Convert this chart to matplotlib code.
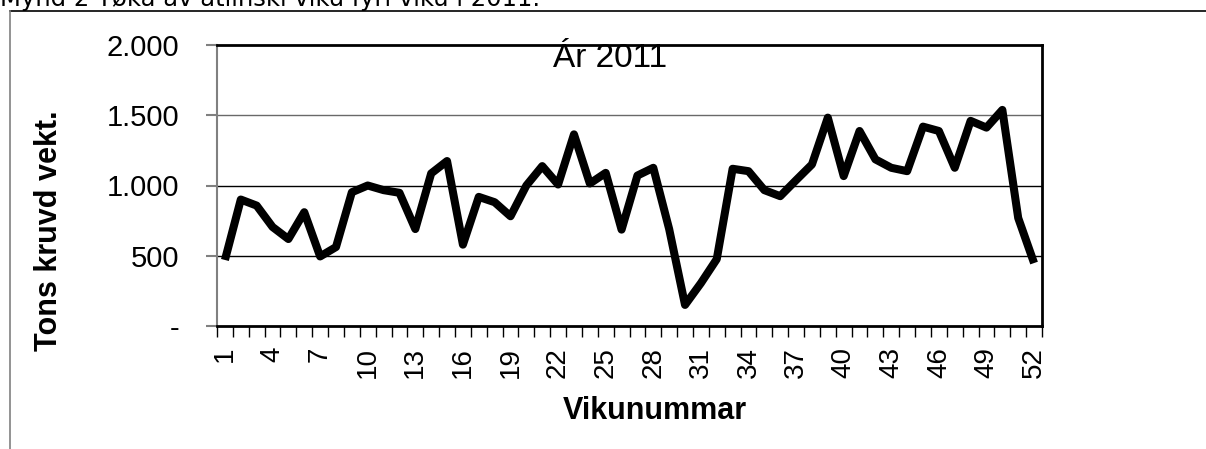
import numpy as np
import matplotlib.pyplot as plt
from matplotlib.lines import Line2D

weeks = np.arange(1, 53)
tons = [470, 900, 857, 705, 619, 810, 495, 562, 952, 1000,
        967, 948, 690, 1086, 1174, 579, 919, 881, 781, 1000,
        1138, 1007, 1364, 1014, 1090, 686, 1071, 1126, 690, 150,
        305, 476, 1119, 1102, 967, 924, 1038, 1150, 1483, 1067,
        1388, 1186, 1126, 1102, 1419, 1388, 1126, 1460, 1412, 1538,
        769, 448]
label_weeks = list(range(1, 53, 3))
y_ticks = [0, 500, 1000, 1500, 2000]
y_labels = ["-", "500", "1.000", "1.500", "2.000"]

plt.rcParams["font.family"] = ["Liberation Sans", "DejaVu Sans"]

fig = plt.figure(figsize=(12.06, 4.49), dpi=100)
ax = fig.add_axes([217 / 1206, 1 - 326 / 449, 825 / 1206, 281 / 449])

ax.plot(weeks, tons, color="black", lw=5.8, solid_joinstyle="round",
        solid_capstyle="butt", zorder=3)

ax.set_xlim(0.5, 52.5)
ax.set_ylim(0, 2000)

ax.set_yticks(y_ticks)
ax.set_yticklabels(y_labels, fontsize=21)
ax.tick_params(axis="y", length=8, color="gray", width=1.5, pad=19)
for v in y_ticks[1:4]:
    ax.axhline(v, color="black" if v < 1500 else "dimgray", lw=1, zorder=1)

ax.set_xticks(label_weeks)
ax.set_xticklabels([str(w) for w in label_weeks], rotation=90, fontsize=20)
ax.tick_params(axis="x", which="major", length=0, pad=15)
ax.set_xticks(np.arange(0.5, 53), minor=True)
ax.tick_params(axis="x", which="minor", length=8, width=1, color="black")

ax.spines["left"].set_color("gray")
ax.spines["left"].set_linewidth(1.5)
for s in ["bottom", "top", "right"]:
    ax.spines[s].set_color("black")
    ax.spines[s].set_linewidth(2)

ax.set_ylabel("Tons kruvd vekt.", fontsize=22, fontweight="bold")
ax.yaxis.set_label_coords(-0.186, 0.338)
ax.set_xlabel("Vikunummar", fontsize=22, fontweight="bold")
ax.xaxis.set_label_coords(0.531, -0.25)

ax.text(610 / 1206, 1 - 67 / 449, "Ár 2011", transform=fig.transFigure,
        fontsize=24, ha="center", va="baseline")

# chart area frame and the caption that is cut off at the top
fig.add_artist(Line2D([10 / 1206, 1], [1 - 11 / 449, 1 - 11 / 449],
                      color="black", lw=1.2, transform=fig.transFigure))
fig.add_artist(Line2D([10 / 1206, 10 / 1206], [0, 1 - 11 / 449],
                      color="gray", lw=1.2, transform=fig.transFigure))
fig.text(0.0, 1 - 6 / 449, "Mynd 2 Tøka av atlinski viku fyri viku í 2011.",
         fontsize=17.5, family="DejaVu Sans", va="baseline")

fig.savefig("out.png", dpi=100)
